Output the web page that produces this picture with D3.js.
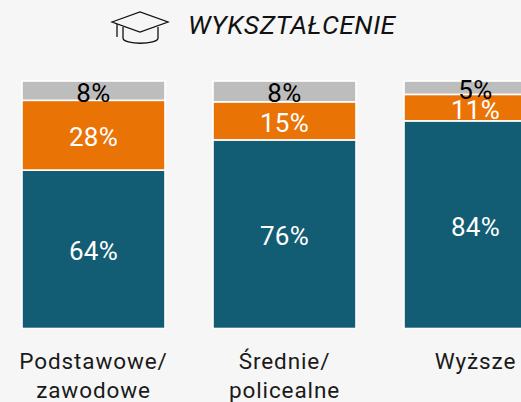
<!DOCTYPE html>
<html>
<head>
<meta charset="utf-8">
<script src="https://cdn.jsdelivr.net/npm/d3@7"></script>
<style>
html, body { margin: 0; padding: 0; background: #f6f6f6; overflow: hidden; }
text { font-family: Roboto, sans-serif; font-weight: 400; }
</style>
</head>
<body>
<div id="chart"></div>
<script>
var title = 'WYKSZTAŁCENIE';
var categories = ['Podstawowe/|zawodowe', 'Średnie/|policealne', 'Wyższe'];
var seriesKeys = ['base', 'middle', 'top'];
var baseValues = [64, 76.2, 83.9];
var middleValues = [28.2, 15.4, 10.7];
var topValues = [7.8, 8.4, 5.4];
var colors = ['#125d73', '#ea7306', '#bdbdbd'];
var textColors = ['#fff', '#fff', '#000'];

var width = 521;
var height = 402;

var table = categories.map(function (c, i) {
    return {category: c, base: baseValues[i], middle: middleValues[i], top: topValues[i]};
});

var svg = d3.select('#chart')
    .append('svg')
    .attr('width', width)
    .attr('height', height)
    .style('display', 'block');

// step is 191, bars are 143 wide, the last one runs off the page
var x = d3.scaleBand()
    .domain(categories)
    .range([22 - 24, 22 - 24 + 191 * 3])
    .paddingInner(48 / 191)
    .paddingOuter(24 / 191);

var y = d3.scaleLinear()
    .domain([0, 100])
    .range([328.5, 81]);

var stack = d3.stack().keys(seriesKeys);

var groups = svg.selectAll('.series')
    .data(stack(table))
    .enter()
    .append('g')
    .attr('class', 'series');

groups.selectAll('rect')
    .data(function (s) {return s;})
    .enter()
    .append('rect')
    .attr('x', function (d) {return x(d.data.category);})
    .attr('y', function (d) {return y(d[1]);})
    .attr('width', x.bandwidth())
    .attr('height', function (d) {return y(d[0]) - y(d[1]);})
    .attr('fill', function () {return colors[seriesKeys.indexOf(d3.select(this.parentNode).datum().key)];})
    .attr('stroke', '#fff')
    .attr('stroke-width', 1.6);

groups.selectAll('text')
    .data(function (s) {return s;})
    .enter()
    .append('text')
    .attr('x', function (d) {return x(d.data.category) + x.bandwidth() / 2;})
    .attr('y', function (d) {return (y(d[0]) + y(d[1])) / 2 + 11;})
    .attr('text-anchor', 'middle')
    .style('font-size', '26px')
    .style('letter-spacing', '0.3px')
    .style('fill', function () {return textColors[seriesKeys.indexOf(d3.select(this.parentNode).datum().key)];})
    .text(function (d) {return Math.round(d[1] - d[0]) + '%';});

// category labels, two lines where the name has a break
var labels = svg.selectAll('.label')
    .data(categories)
    .enter()
    .append('text')
    .attr('class', 'label')
    .attr('text-anchor', 'middle')
    .style('font-size', '22.5px')
    .style('letter-spacing', '0.9px')
    .style('fill', '#1a1a1a');

labels.selectAll('tspan')
    .data(function (d) {return d.split('|').map(function (t) {return {text: t, category: d};});})
    .enter()
    .append('tspan')
    .attr('x', function (d) {return x(d.category) + x.bandwidth() / 2;})
    .attr('y', function (d, i) {return 369 + i * 29;})
    .text(function (d) {return d.text;});

svg.append('text')
    .attr('x', 188)
    .attr('y', 34)
    .style('font-size', '26.5px')
    .style('font-style', 'italic')
    .style('letter-spacing', '0.5px')
    .style('fill', '#111')
    .text(title);

// graduation cap icon
var icon = svg.append('g')
    .attr('fill', 'none')
    .attr('stroke', '#111')
    .attr('stroke-width', 1.3);

icon.append('path').attr('d', 'M112,22 L140,12 L168,22 L140,32 Z');
icon.append('path').attr('d', 'M123,27 V38 C123,45 158,45 158,38 V27');
icon.append('path').attr('d', 'M117,24 V37');
</script>
</body>
</html>
